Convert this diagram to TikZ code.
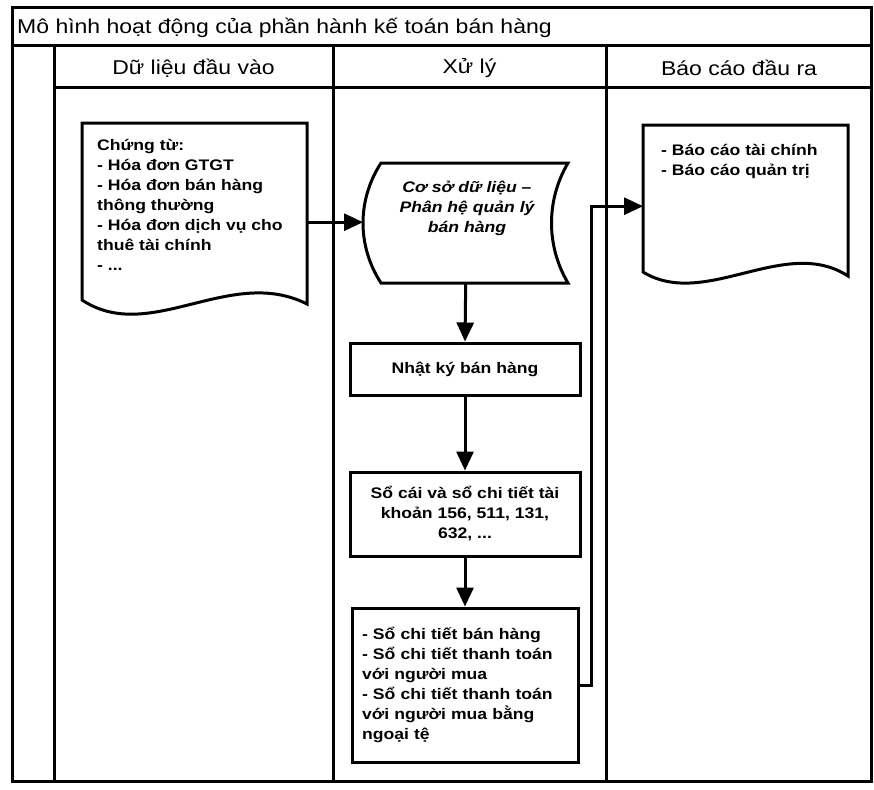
\documentclass[tikz,border=0pt]{standalone}
\usepackage{fontspec}
\setmainfont{Liberation Sans}[FakeStretch=1.15]
\usetikzlibrary{arrows.meta}

\newcommand{\titlefont}{\fontsize{20}{24}\selectfont}
\newcommand{\boxfont}{\fontsize{15.3}{20}\selectfont\bfseries}

\tikzset{
  rule/.style={line width=3pt},
  shapeline/.style={line width=3pt, line join=miter},
  procbox/.style={draw, line width=3pt, align=center, inner sep=0pt, font=\boxfont},
  boxtext/.style={inner sep=0pt, font=\boxfont},
  hdr/.style={inner sep=0pt, font=\titlefont},
  area/.style={inner sep=0pt},
  flow/.style={line width=3pt, -{Triangle[length=19pt,width=17pt]}},
}

\begin{document}
\begin{tikzpicture}[x=1pt, y=-1pt]
\useasboundingbox (0,0) rectangle (874,789);

% swimlane frame
\draw[rule] (12,8) rectangle (871,781);
\draw[rule] (12,46) -- (871,46);
\draw[rule] (54,88) -- (871,88);
\draw[rule] (54,46) -- (54,781);
\draw[rule] (333,46) -- (333,781);
\draw[rule] (606,46) -- (606,781);

% title and lane headings
\node[hdr, anchor=west] (title) at (17,28) {Mô hình hoạt động của phần hành kế toán bán hàng};
\node[hdr] (h1) at (193.5,68) {Dữ liệu đầu vào};
\node[hdr] (h2) at (469.5,68) {Xử lý};
\node[hdr] (h3) at (739,68) {Báo cáo đầu ra};

% input documents
\node[area, anchor=north west, minimum width=225pt, minimum height=198pt] (src) at (82,123) {};
\draw[shapeline] (82,123) -- (307,123) -- (307,304)
  .. controls (230,265) and (150,345) .. (82,300) -- cycle;
\node[boxtext, anchor=west, align=left] (srctext) at (97,205)
  {Chứng từ:\\- Hóa đơn GTGT\\- Hóa đơn bán hàng\\thông thường\\- Hóa đơn dịch vụ cho\\thuê tài chính\\- ...};

% stored data
\node[area, anchor=north west, minimum width=205pt, minimum height=120pt] (db) at (363,163) {};
\draw[shapeline] (381,163) -- (568,163)
  .. controls (546,200) and (546,246) .. (568,283)
  -- (381,283)
  .. controls (357,246) and (357,200) .. (381,163) -- cycle;
\node[boxtext, font=\boxfont\itshape, align=center] (dbtext) at (467,208)
  {Cơ sở dữ liệu –\\Phân hệ quản lý\\bán hàng};

% processing steps
\node[procbox, minimum width=230pt, minimum height=52pt] (journal) at (465,369) {Nhật ký bán hàng};
\node[procbox, minimum width=230pt, minimum height=84pt] (ledger) at (465,514)
  {Sổ cái và sổ chi tiết tài\\khoản 156, 511, 131,\\632, ...};
\node[procbox, text width=206pt, align=left, inner xsep=10pt, minimum height=154pt] (detail) at (465,685)
  {- Sổ chi tiết bán hàng\\- Sổ chi tiết thanh toán\\với người mua\\- Sổ chi tiết thanh toán\\với người mua bằng\\ngoại tệ};

% output reports
\node[area, anchor=north west, minimum width=205pt, minimum height=162pt] (out) at (643,125) {};
\draw[shapeline] (643,125) -- (848,125) -- (848,276)
  .. controls (785,235) and (705,310) .. (643,272) -- cycle;
\node[boxtext, anchor=west, align=left] (outtext) at (661,161)
  {- Báo cáo tài chính\\- Báo cáo quản trị};

% connectors
\draw[flow] (src.east) -- (db.west |- src.east);
\draw[flow] (db.south) -- (journal.north);
\draw[flow] (journal.south) -- (ledger.north);
\draw[flow] (ledger.south) -- (detail.north);
\draw[flow] (detail.east) -- ++(12,0) |- (out.west);

\end{tikzpicture}
\end{document}
